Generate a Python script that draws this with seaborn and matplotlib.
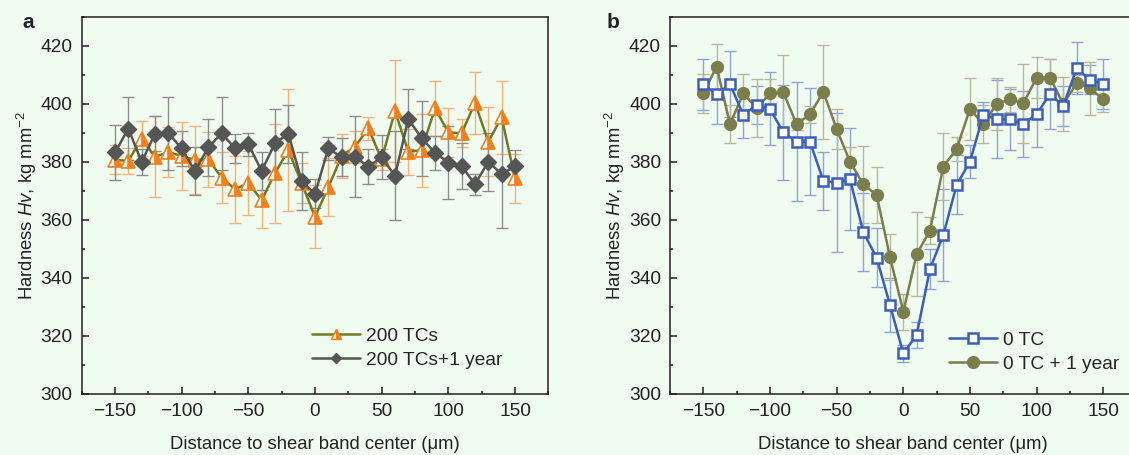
import numpy as np
import pandas as pd
import matplotlib
matplotlib.use("Agg")
import matplotlib.pyplot as plt
from matplotlib.ticker import MultipleLocator
from matplotlib.lines import Line2D
import seaborn as sns

# ---------------- data ----------------
distance = list(range(-150, 151, 10))

tc200 = [380.6, 380.3, 388.0, 381.7, 383.3, 382.0, 380.6, 380.8, 374.5, 370.5,
         372.6, 366.8, 376.0, 384.0, 372.6, 361.0, 371.2, 382.0, 385.2, 391.5,
         380.8, 397.5, 383.4, 384.0, 398.4, 390.1, 389.8, 400.3, 386.9, 395.3, 374.3]
tc200_err = [5, 4.5, 6, 14, 8.5, 11.6, 11.8, 9.6, 8.7, 11.5,
             11, 9.7, 17, 21, 7, 10.9, 10, 7.6, 5.5, 4,
             3.5, 17.5, 8, 12.6, 9.5, 8.5, 4.8, 10.6, 11.8, 12.7, 8.5]

tc200_1y = [383.2, 391.4, 379.9, 389.7, 389.8, 384.6, 376.8, 385.0, 389.8, 384.6,
            386.0, 376.8, 386.4, 389.7, 373.3, 368.9, 384.6, 381.5, 381.7, 378.3,
            381.5, 375.2, 394.7, 388.1, 383.1, 379.7, 378.5, 372.2, 380.0, 375.7, 378.5]
tc200_1y_err = [9.6, 10.8, 4.4, 6, 12.6, 6, 8.2, 9.8, 12.6, 5,
                4, 6.5, 11.8, 10, 10, 5, 4, 6.6, 14, 6,
                7.6, 15.4, 10.2, 13, 5.9, 12.7, 8, 3.7, 10, 18.7, 5.7]

tc0 = [406.7, 403.2, 406.8, 396.1, 399.6, 398.2, 390.1, 386.9, 386.9, 373.4,
       372.8, 374.0, 355.7, 346.9, 330.6, 313.9, 320.2, 343.0, 354.7, 372.0,
       380.0, 396.1, 394.7, 394.6, 393.0, 396.4, 403.3, 399.2, 412.2, 408.2, 406.8]
tc0_err = [8.7, 10.3, 11.4, 8, 6.5, 12.6, 16.4, 20.5, 18.4, 9.9,
           24, 17.6, 13.4, 10.2, 9.2, 2.9, 4.5, 6.9, 16, 10.2,
           5.7, 4.4, 13.5, 10.6, 11.5, 11.5, 12, 6.8, 9, 5, 8.6]

tc0_1y = [403.6, 412.8, 392.9, 403.6, 398.4, 403.6, 403.9, 392.9, 396.3, 404.1,
          391.3, 380.0, 372.2, 368.5, 347.2, 328.3, 348.1, 356.2, 378.3, 384.4,
          398.2, 392.9, 399.9, 401.5, 400.1, 409.0, 409.0, 399.9, 407.0, 405.3, 401.5]
tc0_1y_err = [6.7, 7.8, 6.5, 6.5, 10, 5, 13, 2, 3, 16.3,
              7, 5, 13.3, 9.8, 8, 6.2, 14.4, 4.6, 11.5, 4,
              10.8, 6.5, 9, 4.4, 13.5, 7, 6.5, 9.2, 3, 9.2, 4.3]

labels_a = ["200 TCs", "200 TCs+1 year"]
labels_b = ["0 TC", "0 TC + 1 year"]

# ---------------- style ----------------
BG = "#f1fcf1"
sns.set_theme(style="ticks")
plt.rcParams["font.family"] = ["Liberation Sans", "DejaVu Sans"]
plt.rcParams["mathtext.fontset"] = "custom"
plt.rcParams["mathtext.rm"] = "Liberation Sans"
plt.rcParams["mathtext.it"] = "Liberation Sans:italic"
plt.rcParams["axes.unicode_minus"] = True

W, H = 1129, 455
fig = plt.figure(figsize=(W / 100, H / 100), dpi=100, facecolor=BG)

def fx(px):
    return px / W

def fy(py):
    return 1 - py / H

axw = 548.3 - 81.7
ax_a = fig.add_axes([fx(81.7), fy(393.7), fx(axw), fy(16.7) - fy(393.7)])
ax_b = fig.add_axes([fx(670), fy(393.7), fx(axw), fy(16.7) - fy(393.7)])

SPINE = "#231f20"
TXT = "#222222"

def style_axes(ax):
    ax.set_facecolor(BG)
    ax.set_xlim(-175, 175)
    ax.set_ylim(300, 430)
    ax.xaxis.set_major_locator(MultipleLocator(50))
    ax.xaxis.set_minor_locator(MultipleLocator(25))
    ax.yaxis.set_major_locator(MultipleLocator(20))
    ax.yaxis.set_minor_locator(MultipleLocator(10))
    ax.set_yticks([300, 320, 340, 360, 380, 400, 420])
    ax.tick_params(which="both", direction="in", color=SPINE, width=1.1,
                   top=False, right=False, labelsize=13.8, labelcolor=TXT)
    ax.tick_params(which="major", length=5, pad=6.5)
    ax.tick_params(which="minor", length=2.5)
    for s in ax.spines.values():
        s.set_visible(True)
        s.set_color(SPINE)
        s.set_linewidth(1.1)
    ax.set_xlabel("Distance to shear band center (\u03bcm)", fontsize=13.3,
                  color=TXT, labelpad=12)
    ax.set_ylabel("Hardness $\\it{Hv}$, kg mm$^{-2}$", fontsize=13.3,
                  color=TXT, labelpad=1)

# ---------------- panel a ----------------
ORANGE = "#f07f1c"
ORANGE_ERR = "#f3b27a"
OLIVE_LINE = "#6e7a26"
DGRAY = "#555555"
GRAY_ERR = "#8c8c8c"

df_a1 = pd.DataFrame({"x": distance, "y": tc200})
df_a2 = pd.DataFrame({"x": distance, "y": tc200_1y})

ax_a.errorbar(distance, tc200, yerr=tc200_err, fmt="none", ecolor=ORANGE_ERR,
              elinewidth=1, capsize=4, capthick=1, zorder=1)
ax_a.errorbar(distance, tc200_1y, yerr=tc200_1y_err, fmt="none", ecolor=GRAY_ERR,
              elinewidth=1, capsize=4, capthick=1, zorder=1)

sns.lineplot(data=df_a1, x="x", y="y", ax=ax_a, color=OLIVE_LINE, linewidth=1.8,
             marker="^", markersize=10, markerfacecolor=ORANGE,
             markerfacecoloralt="white", fillstyle="right",
             markeredgecolor=ORANGE, markeredgewidth=1.2, zorder=3, legend=False)
sns.lineplot(data=df_a2, x="x", y="y", ax=ax_a, color=DGRAY, linewidth=1.8,
             marker="D", markersize=8, markerfacecolor=DGRAY,
             markeredgecolor=DGRAY, markeredgewidth=1, zorder=4, legend=False)

style_axes(ax_a)

h_a = [Line2D([], [], color=OLIVE_LINE, linewidth=1.8, marker="^", markersize=7,
              markerfacecolor=ORANGE, markerfacecoloralt="white", fillstyle="right",
              markeredgecolor=ORANGE, markeredgewidth=1),
       Line2D([], [], color=DGRAY, linewidth=1.8, marker="D", markersize=5,
              markerfacecolor=DGRAY, markeredgecolor=DGRAY)]
ax_a.legend(h_a, labels_a, loc="lower left", bbox_to_anchor=(0.478, 0.045),
            frameon=False, fontsize=13.8, handlelength=2.5, handletextpad=0.3,
            labelspacing=0.35, borderaxespad=0)

# ---------------- panel b ----------------
BLUE = "#3b5fb8"
BLUE_ERR = "#8ea2d6"
OLIVE = "#7a7d4c"
OLIVE_ERR = "#b7b89a"

df_b1 = pd.DataFrame({"x": distance, "y": tc0})
df_b2 = pd.DataFrame({"x": distance, "y": tc0_1y})

ax_b.errorbar(distance, tc0, yerr=tc0_err, fmt="none", ecolor=BLUE_ERR,
              elinewidth=1, capsize=4, capthick=1, zorder=1)
ax_b.errorbar(distance, tc0_1y, yerr=tc0_1y_err, fmt="none", ecolor=OLIVE_ERR,
              elinewidth=1, capsize=4, capthick=1, zorder=1)

sns.lineplot(data=df_b2, x="x", y="y", ax=ax_b, color=OLIVE, linewidth=1.8,
             marker="o", markersize=8.5, markerfacecolor=OLIVE,
             markeredgecolor=OLIVE, markeredgewidth=1, zorder=3, legend=False)
sns.lineplot(data=df_b1, x="x", y="y", ax=ax_b, color=BLUE, linewidth=1.8,
             marker="s", markersize=7.5, markerfacecolor="white",
             markeredgecolor=BLUE, markeredgewidth=1.8, zorder=4, legend=False)

style_axes(ax_b)

h_b = [Line2D([], [], color=BLUE, linewidth=1.8, marker="s", markersize=7.5,
              markerfacecolor="white", markeredgecolor=BLUE, markeredgewidth=1.8),
       Line2D([], [], color=OLIVE, linewidth=1.8, marker="o", markersize=8.5,
              markerfacecolor=OLIVE, markeredgecolor=OLIVE)]
ax_b.legend(h_b, labels_b, loc="lower left", bbox_to_anchor=(0.582, 0.035),
            frameon=False, fontsize=13.8, handlelength=2.5, handletextpad=0.3,
            labelspacing=0.35, borderaxespad=0)

# panel letters
fig.text(fx(28), fy(23), "a", fontsize=15, fontweight="bold", ha="center",
         va="center", color=TXT)
fig.text(fx(613), fy(22), "b", fontsize=15, fontweight="bold", ha="center",
         va="center", color=TXT)

fig.savefig("out.png", dpi=100, facecolor=BG)
